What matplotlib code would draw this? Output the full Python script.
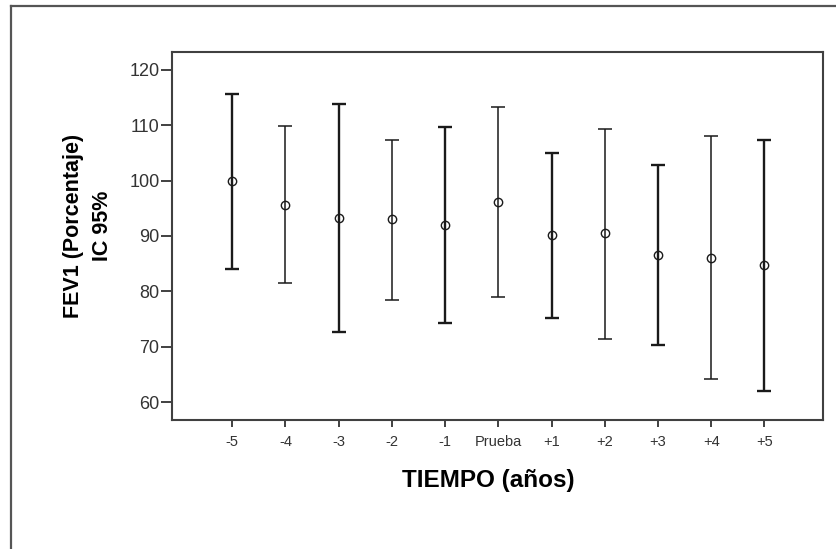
import matplotlib
matplotlib.use('Agg')
import matplotlib.pyplot as plt
from matplotlib.lines import Line2D

plt.rc('font', family=['Liberation Sans', 'DejaVu Sans'])

labels = ['-5', '-4', '-3', '-2', '-1', 'Prueba', '+1', '+2', '+3', '+4', '+5']
means = [99.9, 95.6, 93.3, 93.0, 92.0, 96.1, 90.1, 90.5, 86.5, 86.1, 84.7]
upper = [115.6, 109.8, 113.8, 107.4, 109.7, 113.3, 105.0, 109.4, 102.8, 108.0, 107.3]
lower = [84.1, 81.5, 72.7, 78.5, 74.2, 78.9, 75.1, 71.4, 70.3, 64.2, 62.0]
yticks = [60, 70, 80, 90, 100, 110, 120]

W, H = 836, 549
fig = plt.figure(figsize=(W / 100, H / 100), dpi=100)
ax = fig.add_axes([172 / W, 1 - 420 / H, (823 - 172) / W, (420 - 52) / H])

# outer frame (only left and top edges are visible in the reference)
fig.add_artist(Line2D([11 / W, 11 / W], [0, 1 - 6 / H], color='#555555', lw=1.6,
                      transform=fig.transFigure))
fig.add_artist(Line2D([11 / W, 1], [1 - 6 / H, 1 - 6 / H], color='#555555', lw=1.6,
                      transform=fig.transFigure))

for i in range(len(labels)):
    lw = 1.7 if i % 2 == 0 else 1.1
    ax.errorbar([i], [means[i]],
                yerr=[[means[i] - lower[i]], [upper[i] - means[i]]],
                fmt='none', ecolor='#1a1a1a', elinewidth=lw, capsize=5, capthick=lw)
    ax.plot([i], [means[i]], 'o', mfc='none', mec='#1a1a1a', ms=6, mew=1.0)

ax.set_xlim(-1.13, 11.1)
ax.set_ylim(56.75, 123.25)
ax.set_xticks(range(len(labels)))
ax.set_xticklabels(labels, fontsize=10.5, color='#333333')
ax.set_yticks(yticks)
ax.set_yticklabels([str(v) for v in yticks], fontsize=13, color='#333333')
ax.tick_params(axis='y', length=8, width=1.4, color='#404040', pad=1)
ax.tick_params(axis='x', length=5, width=1.4, color='#404040', pad=6)
for s in ax.spines.values():
    s.set_color('#404040')
    s.set_linewidth(1.5)

fig.text(488 / W, 1 - 480 / H, 'TIEMPO (años)', fontsize=17.5, fontweight='bold',
         ha='center', va='center')
fig.text(88 / W, 1 - 226 / H, 'FEV1 (Porcentaje)\nIC 95%', fontsize=15.5,
         fontweight='bold', rotation=90, ha='center', va='center',
         multialignment='center', linespacing=1.55)

fig.savefig('out.png', dpi=100)
